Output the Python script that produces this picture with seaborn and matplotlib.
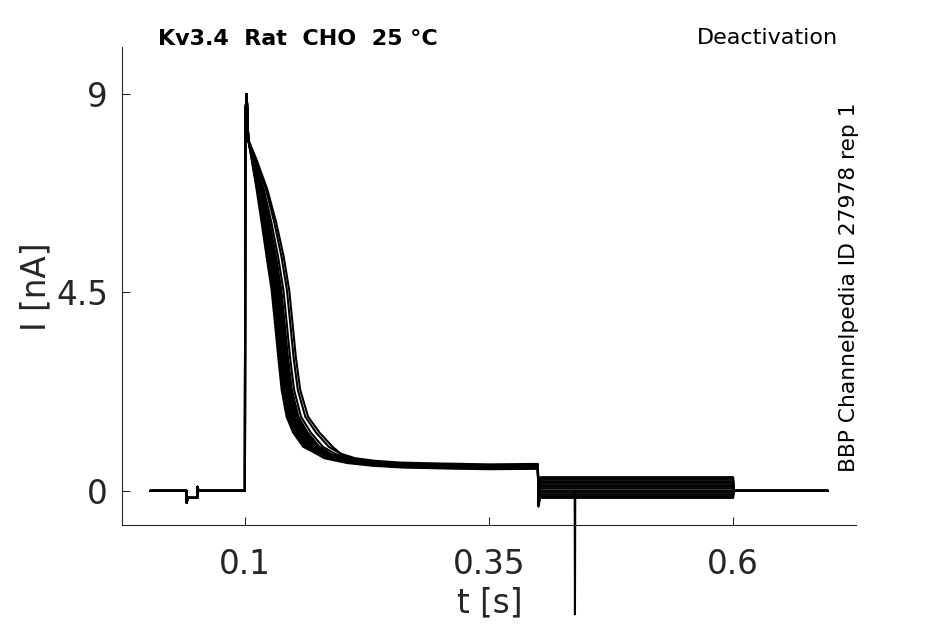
import numpy as np
import pandas as pd
import matplotlib
matplotlib.use("Agg")
import matplotlib.pyplot as plt
import seaborn as sns

# baseline before the test pulse (small calibration dip)
pre_t = [0.003, 0.0402, 0.0404, 0.0412, 0.0512, 0.0514, 0.0525, 0.1]
pre_i = [0.0, 0.0, -0.27, -0.16, -0.16, 0.09, 0.0, 0.0]

# rising edge and peak, shared by all sweeps
peak_t = [0.1003, 0.1018]
peak_i = [8.5, 9.0]

# decay knots of the fastest sweep, and how far the slowest sweep lags behind
decay_t = [0.1034, 0.1069, 0.1120, 0.1171, 0.1222, 0.1273, 0.1307, 0.1341, 0.1376,
           0.1427, 0.1494, 0.1597, 0.1798, 0.2041, 0.2300, 0.2600, 0.3000, 0.3500, 0.3990]
decay_i = [7.96, 7.51, 6.83, 6.08, 5.31, 4.56, 3.81, 3.04, 2.29,
           1.68, 1.32, 1.00, 0.77, 0.66, 0.60, 0.56, 0.54, 0.52, 0.53]
decay_lag = [0.0, 0.005, 0.011, 0.015, 0.0175, 0.018, 0.018, 0.018, 0.019,
             0.022, 0.027, 0.030, 0.020, 0.010, 0.004, 0.0, 0.0, 0.0, 0.0]

# per sweep: fraction of the lag, plateau offset, deactivation step level
lag_frac = [0.0, 0.07, 0.14, 0.21, 0.28, 0.35, 0.42, 0.49, 0.55, 0.67, 0.87, 1.0]
plateau_off = [0.0, -0.03, 0.02, 0.04, -0.02, 0.01, 0.05, -0.01, 0.03, 0.06, 0.08, 0.04]
step_level = [0.31, 0.27, 0.22, 0.18, 0.13, 0.09, 0.05, 0.0, -0.04, -0.08, -0.12, -0.16]
step_dip = [-0.36, -0.3, -0.25, -0.2, -0.2, -0.18, -0.2, -0.22, -0.25, -0.28, -0.3, -0.34]

spike_sweep = 7
spike_t = 0.438
spike_i = -2.8
t_end = 0.697

rows = []
for k in range(len(lag_frac)):
    t = list(pre_t) + list(peak_t)
    y = list(pre_i) + list(peak_i)
    for tt, ii, lg in zip(decay_t, decay_i, decay_lag):
        t.append(tt + lag_frac[k] * lg)
        y.append(ii + (plateau_off[k] if tt > 0.17 else 0.0))
    t += [0.4, 0.4006, 0.4025]
    y += [y[-1], step_dip[k], step_level[k]]
    if k == spike_sweep:
        t += [spike_t - 0.0003, spike_t, spike_t + 0.0003]
        y += [step_level[k], spike_i, step_level[k]]
    t += [0.6, 0.6006, t_end]
    y += [step_level[k], 0.0, 0.0]
    for tt, ii in zip(t, y):
        rows.append((k, tt, ii))

df = pd.DataFrame(rows, columns=["sweep", "t", "I"])

sns.set_theme(style="ticks")
plt.rcParams["font.family"] = ["DejaVu Sans"]

fig, ax = plt.subplots(figsize=(9.45, 6.24), dpi=100)
fig.subplots_adjust(left=0.129, right=0.906, bottom=0.159, top=0.925)

sns.lineplot(data=df, x="t", y="I", units="sweep", estimator=None, sort=False,
             color="black", linewidth=1.5, legend=False, ax=ax)
for ln in ax.get_lines():
    ln.set_clip_on(False)

ax.set_xlim(-0.026, 0.726)
ax.set_ylim(-0.77, 10.07)
ax.set_xticks([0.1, 0.35, 0.6])
ax.set_xticklabels(["0.1", "0.35", "0.6"])
ax.set_yticks([0, 4.5, 9])
ax.set_yticklabels(["0", "4.5", "9"])
ax.tick_params(direction="in", length=6, width=0.8, labelsize=23.5, colors="#262626")
ax.tick_params(axis="x", pad=17)
ax.tick_params(axis="y", pad=10)
sns.despine(ax=ax)
for s in ["left", "bottom"]:
    ax.spines[s].set_linewidth(0.8)
    ax.spines[s].set_color("#262626")

ax.set_xlabel("t [s]", fontsize=23.5, color="#262626", va="center")
ax.set_ylabel("I [nA]", fontsize=23.5, color="#262626", va="center")
ax.xaxis.set_label_coords(0.501, -0.163)
ax.yaxis.set_label_coords(-0.1165, 0.498)

fig.text(0.167, 0.9375, "Kv3.4  Rat  CHO  25 °C", fontsize=16, fontweight="bold",
         ha="left", va="center", color="black")
fig.text(0.887, 0.939, "Deactivation", fontsize=16, ha="right", va="center", color="black")
fig.text(0.898, 0.54, "BBP Channelpedia ID 27978 rep 1", fontsize=15.7, rotation=90,
         ha="center", va="center", color="black")

fig.savefig("out.png", dpi=100)
